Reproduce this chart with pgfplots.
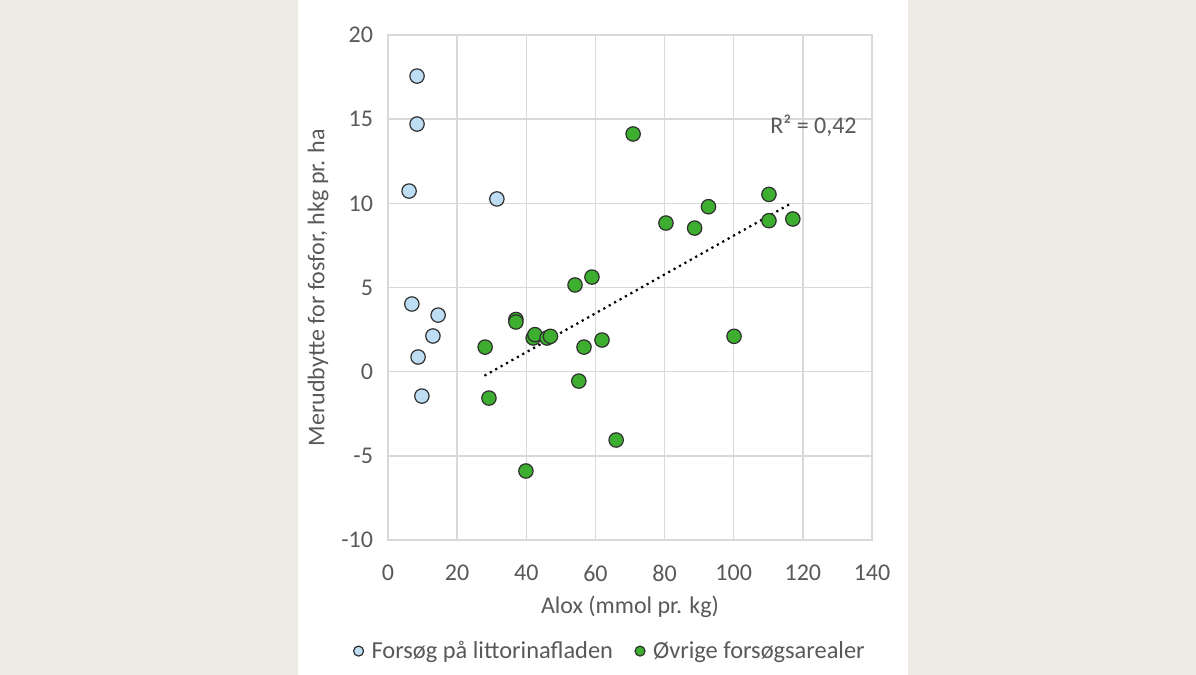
\documentclass[border=0pt]{standalone}
\usepackage{fontspec}
\setmainfont{Carlito}
\usepackage{pgfplots}
\pgfplotsset{compat=1.18}

\definecolor{bgbeige}{HTML}{EDEBE4}
\definecolor{gridgray}{HTML}{D9D9D9}
\definecolor{txtgray}{HTML}{595959}
\definecolor{ptblue}{HTML}{BDDDF2}
\definecolor{ptgreen}{HTML}{3EAE30}
\definecolor{ptedge}{HTML}{2F2F2F}

\begin{document}
\begin{tikzpicture}
\fill[bgbeige] (-194pt,-67.5pt) rectangle (404pt,270pt);
\fill[white] (-45pt,-67.5pt) rectangle (260pt,270pt);
\path[use as bounding box] (-194pt,-67.5pt) rectangle (404pt,270pt);
\begin{axis}[
  at={(0,0)}, anchor=south west,
  scale only axis,
  width=242pt, height=252.5pt,
  xmin=0, xmax=140, ymin=-10, ymax=20,
  xtick={0,20,...,140},
  ytick={-10,-5,...,20},
  grid=major,
  major grid style={gridgray, line width=0.7pt},
  axis line style={gridgray, line width=0.7pt},
  tick style={draw=none},
  font=\fontsize{12}{14}\selectfont,
  tick label style={txtgray},
  /pgf/number format/assume math mode=true,
  xticklabel style={yshift=-9pt},
  yticklabel style={xshift=-4pt},
  xlabel={Alox (mmol pr. kg)},
  ylabel={Merudbytte for fosfor, hkg pr. ha},
  label style={txtgray},
  xlabel style={at={(rel axis cs:0.5,0)}, anchor=center, yshift=-33.5pt},
  ylabel style={at={(rel axis cs:0,0.5)}, anchor=center, yshift=35pt},
  legend columns=2,
  legend style={draw=none, fill=none, at={(0.461,-0.22)}, anchor=center,
    font=\fontsize{12.2}{14}\selectfont, text=txtgray,
    /tikz/every odd column/.append style={column sep=2pt},
    /tikz/every even column/.append style={column sep=9pt}},
  legend image code/.code={\draw[#1, mark size=2.5pt] plot coordinates {(0pt,0pt)};},
  clip=false,
]
\addplot[only marks, mark=*, mark size=3.6pt, mark options={fill=ptblue, draw=ptedge, line width=0.6pt}]
  coordinates {
  (8.4,17.56) (8.4,14.71) (6.1,10.73) (31.5,10.26) (6.9,4.02)
  (14.5,3.36) (13.0,2.12) (8.7,0.87) (9.8,-1.45)
  };
\addlegendentry{Forsøg på littorinafladen}
\addplot[only marks, mark=*, mark size=3.6pt, mark options={fill=ptgreen, draw=ptedge, line width=0.6pt}]
  coordinates {
  (28.1,1.46) (29.2,-1.57) (37.0,3.1) (37.0,2.95) (42.0,2.0) (42.5,2.2)
  (46.0,2.0) (47.0,2.1) (54.1,5.15) (59.0,5.62) (56.7,1.46) (61.9,1.88)
  (55.2,-0.56) (66.0,-4.06) (39.9,-5.9) (70.9,14.12) (80.4,8.83)
  (88.7,8.53) (92.7,9.8) (110.2,10.53) (110.2,8.97) (117.1,9.07) (100.1,2.1)
  };
\addlegendentry{Øvrige forsøgsarealer}
\addplot[black, line width=1.1pt, dotted, forget plot]
  coordinates {(27.9,-0.24) (116.1,9.94)};
\node[anchor=east, text=txtgray, font=\fontsize{12}{14}\selectfont]
  at (axis cs:137.6,14.6) {R² = 0,42};
\end{axis}
\end{tikzpicture}
\end{document}
